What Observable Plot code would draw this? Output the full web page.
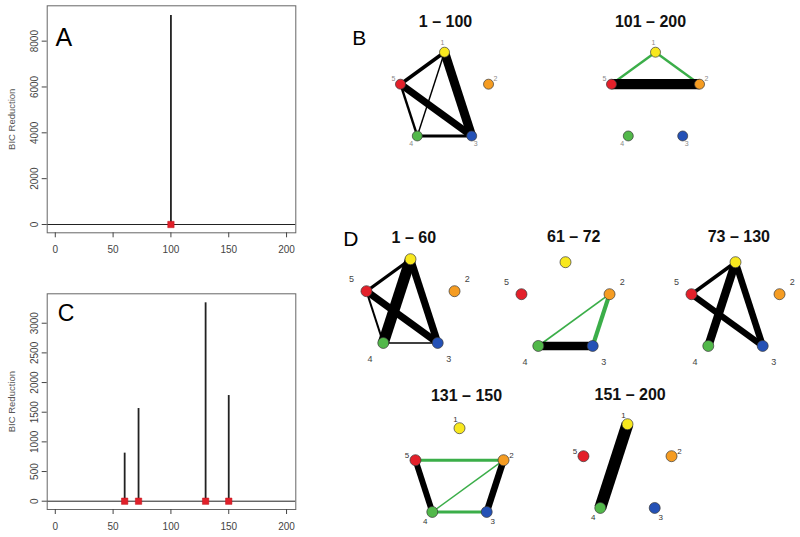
<!DOCTYPE html>
<html><head><meta charset="utf-8">
<script src="https://cdn.jsdelivr.net/npm/d3@7"></script>
<script src="https://cdn.jsdelivr.net/npm/@observablehq/plot@0.6"></script>
<style>
body{margin:0;background:#fff;}
#fig{position:relative;width:800px;height:537px;overflow:hidden;background:#fff;font-family:"Liberation Sans",Arial,sans-serif;}
#fig > div{position:absolute;}
#fig svg{overflow:visible;background:transparent;}
</style></head><body><div id="fig"></div>
<script>
// ---------- Data: BIC reduction panels ----------
const changepointsA = [100];
const bicReductionA = [9120];
const changepointsC = [60, 72, 130, 150];
const bicReductionC = [810, 1562, 3344, 1781];
const xTickValues = [0, 50, 100, 150, 200];
const yTickValuesA = [0, 2000, 4000, 6000, 8000];
const yTickValuesC = [0, 500, 1000, 1500, 2000, 2500, 3000];
const yAxisTitle = "BIC Reduction";

// ---------- Data: networks ----------
const nodeIds = [1, 2, 3, 4, 5];
const nodeColors = ["#f8e81e", "#f59c22", "#2451b6", "#52b84a", "#e3202a"];
const netTitles = ["1 – 100", "101 – 200", "1 – 60", "61 – 72", "73 – 130", "131 – 150", "151 – 200"];
// [from, to, strength, sign]
const edgesB1 = [[1,4,0.12,"+"],[5,4,0.2,"+"],[4,3,0.25,"+"],[1,5,0.3,"+"],[5,3,0.6,"+"],[1,3,0.75,"+"]];
const edgesB2 = [[1,5,0.2,"-"],[1,2,0.2,"-"],[5,2,0.85,"+"]];
const edgesD1 = [[4,3,0.12,"+"],[5,4,0.17,"+"],[1,5,0.27,"+"],[1,3,0.6,"+"],[5,3,0.6,"+"],[1,4,0.92,"+"]];
const edgesD2 = [[2,4,0.14,"-"],[2,3,0.35,"-"],[4,3,0.7,"+"]];
const edgesD3 = [[1,5,0.3,"+"],[5,3,0.52,"+"],[1,3,0.55,"+"],[1,4,0.7,"+"]];
const edgesD4 = [[2,4,0.12,"-"],[5,2,0.26,"-"],[4,3,0.26,"-"],[5,4,0.5,"+"],[2,3,0.55,"+"]];
const edgesD5 = [[1,4,1.0,"+"]];
const netEdges = [edgesB1, edgesB2, edgesD1, edgesD2, edgesD3, edgesD4, edgesD5];

// ---------- Layout (not data) ----------
const FONT = '"Liberation Sans", Arial, sans-serif';
const fig = document.getElementById("fig");
function place(node, left, top, width) {
  const d = document.createElement("div");
  d.style.left = left + "px"; d.style.top = top + "px"; d.style.width = width + "px";
  d.appendChild(node); fig.appendChild(d);
}

function bicPanel(cps, vals, yTicks, yDomain, height, mt, mb, letter) {
  const rows = cps.map((x, i) => ({x, v: vals[i]}));
  return Plot.plot({
    width: 310, height, marginLeft: 46.7, marginRight: 14.7, marginTop: mt, marginBottom: mb,
    style: {fontFamily: FONT, fontSize: "10px", color: "#444", background: "transparent", overflow: "visible"},
    x: {domain: [-7, 208]},
    y: {domain: yDomain},
    marks: [
      Plot.ruleY([0], {stroke: "#222", strokeWidth: 1}),
      Plot.ruleX(rows, {x: "x", y1: () => 0, y2: "v", stroke: "#222", strokeWidth: 1.8}),
      Plot.dot(rows, {x: "x", y: () => 0, symbol: "square", fill: "#e0202a", stroke: "#c0101a", strokeWidth: 0.5, r: 3.6}),
      Plot.frame({stroke: "#666"}),
      Plot.axisX({ticks: xTickValues, tickSize: 5, tickPadding: 8, label: null, tickFormat: d => String(d), fontSize: 10}),
      Plot.axisY({ticks: yTicks, tickSize: 5, tickPadding: 4, tickRotate: -90, textAnchor: "middle", lineAnchor: "bottom", label: null, tickFormat: d => String(d), fontSize: 10}),
      Plot.text([yAxisTitle], {frameAnchor: "left", dx: -35.7, rotate: -90, fontSize: 9.5, fill: "#555", textAnchor: "middle", lineAnchor: "middle"}),
      Plot.text([letter.t], {frameAnchor: "top-left", dx: letter.dx, dy: letter.dy, fontSize: letter.size, fill: "#000", textAnchor: "start", lineAnchor: "middle"})
    ]
  });
}

place(bicPanel(changepointsA, bicReductionA, yTickValuesA, [-362, 9542], 260, 5.3, 27.7, {t: "A", dx: 8.3, dy: 32.5, size: 25}), 0, 0, 310);
place(bicPanel(changepointsC, bicReductionC, yTickValuesC, [-140, 3496], 277, 33.3, 28, {t: "C", dx: 10.6, dy: 19.7, size: 23}), 0, 260, 310);

// Network panels
const R = 46.3;
const labelStyles = {
  small: {size: 7, fill: "#8a8a8a", off: {1: [-2, -9], 2: [7, -5], 3: [4, 8], 4: [-6, 8], 5: [-7, -5]}},
  near: {size: 8, fill: "#333", off: {1: [-4, -9], 2: [8, -5], 3: [6, 9.4], 4: [-7, 9.4], 5: [-8.5, -4.5]}},
  far: {size: 9, fill: "#444", off: {2: [12.7, -12.4], 3: [11, 16], 4: [-13.3, 16], 5: [-15, -12.4]}}
};
const netLayout = [
  {cx: 444, cy: 98, tdx: 1, tdy: -76.3, labels: "small", r: 5, letter: {t: "B", x: -92.3, y: -60.5, size: 21}},
  {cx: 655, cy: 98, tdx: -5, tdy: -76.3, labels: "small", r: 5},
  {cx: 410, cy: 304.6, tdx: 3.3, tdy: -68, labels: "far", r: 5.5, letter: {t: "D", x: -67.3, y: -65.8, size: 21}},
  {cx: 565, cy: 308, tdx: 8.3, tdy: -71.3, labels: "far", r: 5.5},
  {cx: 735, cy: 308, tdx: 3.3, tdy: -71.3, labels: "far", r: 5.5},
  {cx: 459, cy: 473.6, tdx: 7, tdy: -78.6, labels: "near", r: 5.5},
  {cx: 626.7, cy: 470.3, tdx: 2.6, tdy: -75.3, labels: "near", r: 5.5}
];
const nodes = nodeIds.map((id, i) => ({
  id, color: nodeColors[i],
  x: R * Math.sin(2 * Math.PI * i / 5),
  y: -R * Math.cos(2 * Math.PI * i / 5)
}));
const nodeById = new Map(nodes.map(n => [n.id, n]));
const signColor = s => s === "+" ? "#000000" : "#3bae49";

netLayout.forEach((L, k) => {
  const edges = netEdges[k].map(([a, b, w, s]) => ({
    x1: nodeById.get(a).x, y1: nodeById.get(a).y, x2: nodeById.get(b).x, y2: nodeById.get(b).y,
    w: w * 12, c: signColor(s)
  }));
  const ls = labelStyles[L.labels];
  const labs = nodes.filter(n => ls.off[n.id]).map(n => ({t: String(n.id), x: n.x + ls.off[n.id][0], y: n.y + ls.off[n.id][1]}));
  const marks = [
    Plot.link(edges, {x1: "x1", y1: "y1", x2: "x2", y2: "y2", stroke: "c", strokeWidth: "w", strokeLinecap: "butt"}),
    Plot.dot(nodes, {x: "x", y: "y", fill: "color", stroke: "#3a3a3a", strokeWidth: 0.7, r: L.r}),
    Plot.text(labs, {x: "x", y: "y", text: "t", fontSize: ls.size, fill: ls.fill, textAnchor: "middle", lineAnchor: "middle"}),
    Plot.text([{t: netTitles[k], x: L.tdx, y: L.tdy}], {x: "x", y: "y", text: "t", fontSize: 16, fontWeight: "bold", fill: "#111", textAnchor: "middle", lineAnchor: "middle"})
  ];
  if (L.letter) marks.push(Plot.text([L.letter], {x: "x", y: "y", text: "t", fontSize: L.letter.size, fill: "#000", textAnchor: "start", lineAnchor: "middle"}));
  const p = Plot.plot({
    width: 200, height: 200, margin: 0,
    style: {fontFamily: FONT, background: "transparent", overflow: "visible"},
    x: {domain: [-100, 100], range: [0, 200]},
    y: {domain: [-110, 90], range: [0, 200]},
    axis: null,
    marks
  });
  place(p, L.cx - 100, L.cy - 110, 200);
});
</script>
</body></html>
